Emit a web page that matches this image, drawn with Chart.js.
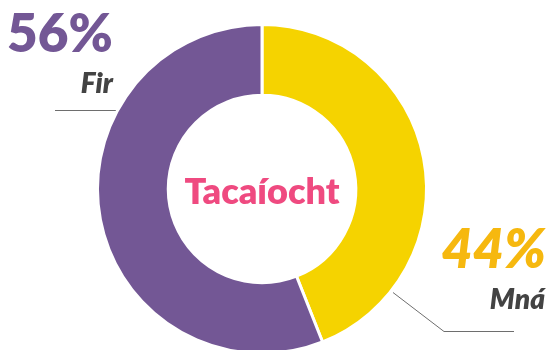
<!DOCTYPE html>
<html>
<head>
<meta charset="utf-8">
<script src="https://cdn.jsdelivr.net/npm/chart.js@4.4.0/dist/chart.umd.min.js"></script>
<style>
  html, body { margin: 0; padding: 0; background: #fff; overflow: hidden; }
  #tacaiocht { position: absolute; left: 0; top: 0; }
</style>
</head>
<body>
<canvas id="tacaiocht" width="547" height="360"></canvas>
<script>
// support split by gender
const categories = ['Mná', 'Fir'];
const values = [44, 56];
const colours = ['#f5d300', '#735795'];
const valueColours = ['#f6b80f', '#735795'];
const centreTitle = 'Tacaíocht';

// where each callout sits: value text, name text and its leader line
const callouts = [
  { vx: 546, vy: 268, nx: 545, ny: 309, italic: true,
    line: [[393, 292], [444, 331], [514, 331]] },
  { vx: 7, vy: 52, nx: 113, ny: 93, italic: false,
    line: [[55, 110], [118, 110]] }
];

const calloutPlugin = {
  id: 'callouts',
  beforeDatasetsDraw(chart) {
    const ctx = chart.ctx;
    ctx.save();
    ctx.strokeStyle = '#6e6e6e';
    ctx.lineWidth = 1;
    callouts.forEach(c => {
      ctx.beginPath();
      c.line.forEach((p, i) => i ? ctx.lineTo(p[0], p[1] + 0.5) : ctx.moveTo(p[0], p[1] + 0.5));
      ctx.stroke();
    });
    ctx.restore();
  },
  afterDraw(chart) {
    const ctx = chart.ctx;
    ctx.save();
    ctx.textBaseline = 'alphabetic';
    callouts.forEach((c, i) => {
      ctx.fillStyle = valueColours[i];
      ctx.font = (c.italic ? 'italic 800 54px' : '800 53px') + ' Lato, "Open Sans", sans-serif';
      ctx.textAlign = i === 1 ? 'left' : 'right';
      ctx.fillText(values[i] + '%', c.vx, c.vy);
      ctx.fillStyle = '#434343';
      ctx.font = 'italic 800 28px Lato, "Open Sans", sans-serif';
      ctx.textAlign = 'right';
      ctx.fillText(categories[i], c.nx, c.ny);
    });
    const meta = chart.getDatasetMeta(0).data[0];
    ctx.fillStyle = '#ef4a80';
    ctx.font = '800 36px Lato, "Open Sans", sans-serif';
    ctx.textAlign = 'center';
    ctx.textBaseline = 'middle';
    ctx.fillText(centreTitle, meta.x, meta.y + 3);
    ctx.restore();
  }
};

new Chart(document.getElementById('tacaiocht'), {
  type: 'doughnut',
  data: {
    labels: categories,
    datasets: [{
      data: values,
      backgroundColor: colours,
      borderColor: '#ffffff',
      borderWidth: 3,
      hoverOffset: 0
    }]
  },
  options: {
    responsive: false,
    animation: false,
    cutout: '57%',
    layout: { padding: { left: 96, right: 119, top: 23, bottom: 5 } },
    plugins: {
      legend: { display: false },
      tooltip: { enabled: false }
    }
  },
  plugins: [calloutPlugin]
});
</script>
</body>
</html>
